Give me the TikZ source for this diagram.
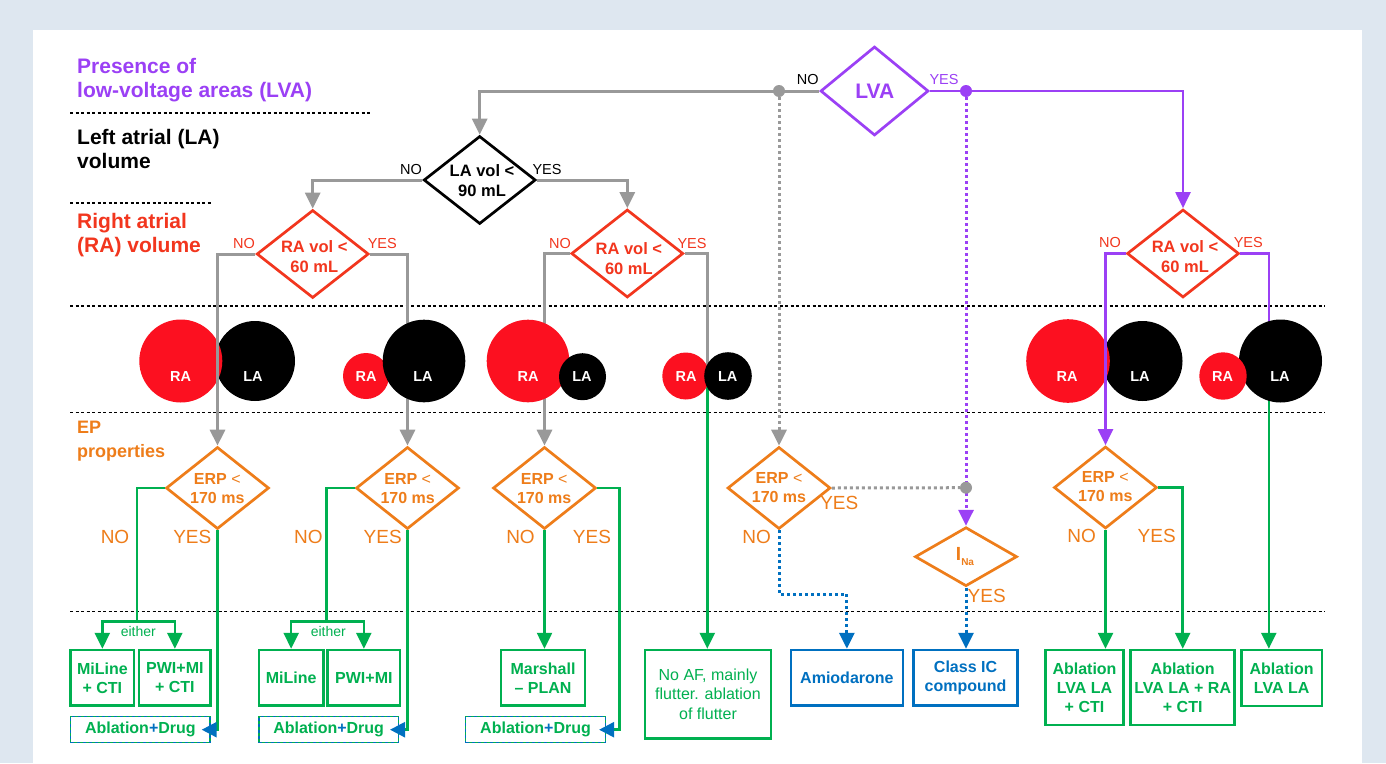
\documentclass[tikz,border=0pt]{standalone}
\usepackage{fontspec}
\setmainfont{Liberation Sans}
\usetikzlibrary{arrows.meta,shapes.geometric}
\definecolor{cpurple}{HTML}{9B40F5}
\definecolor{cred}{HTML}{F2361E}
\definecolor{corange}{HTML}{EE7D1A}
\definecolor{cgreen}{HTML}{00B050}
\definecolor{cblue}{HTML}{0070C0}
\definecolor{cgray}{HTML}{999999}
\definecolor{ccirc}{HTML}{FC1020}
\definecolor{cbg}{HTML}{DEE7F0}
\begin{document}
\begin{tikzpicture}[x=1pt,y=-1pt,
  every node/.style={inner sep=0pt},
  lab/.style={anchor=base west, align=left, font=\fontsize{21}{24}\selectfont\bfseries},
  secline/.style={black, line width=1.4pt, dash pattern=on 3pt off 2.5pt},
  dia/.style={diamond, draw, line width=2.7pt, inner sep=0pt},
  dtext/.style={align=center, font=\fontsize{16.5}{20}\selectfont\bfseries},
  etext/.style={align=center, text=corange, font=\fontsize{16}{19}\selectfont\bfseries},
  yn/.style={font=\fontsize{14.5}{16}\selectfont},
  eyn/.style={font=\fontsize{19}{20}\selectfont, text=corange},
  circ/.style={circle, inner sep=0pt, draw=none},
  ctxt/.style={text=white, font=\fontsize{14.5}{16}\selectfont\bfseries},
  gbox/.style={draw=cgreen, line width=2.5pt, align=center, text=cgreen, font=\fontsize{16}{19}\selectfont\bfseries},
  bbox/.style={draw=cblue, line width=2.5pt, align=center, text=cblue, font=\fontsize{16}{19}\selectfont\bfseries},
  adbox/.style={preaction={draw=cgreen, line width=1.4pt, solid}, draw=cblue, line width=1.4pt, dash pattern=on 3pt off 3pt, minimum height=26pt, text=cgreen, font=\fontsize{16}{19}\selectfont\bfseries},
  gline/.style={draw=cgray, line width=3pt},
  pline/.style={draw=cpurple, line width=2.2pt},
  grline/.style={draw=cgreen, line width=2.5pt},
  gdotl/.style={draw=cgray, line width=3pt, dash pattern=on 3pt off 3pt},
  pdotl/.style={draw=cpurple, line width=3pt, dash pattern=on 3pt off 3pt},
  bdotl/.style={draw=cblue, line width=3pt, dash pattern=on 3pt off 3pt},
  arr/.style={-{Triangle[length=16pt,width=15pt]}},
  barr/.style={-{Triangle[length=15pt,width=15pt,color=cblue]}},
  dotn/.style={circle, inner sep=0pt, minimum size=12pt, draw=none},
]
% background
\path[use as bounding box] (0,0) rectangle (1386,763);
\fill[cbg] (0,0) rectangle (1386,763);
\fill[white] (33,30) rectangle (1362,763);

% section separators
\draw[secline] (70,113) -- (372,113);
\draw[secline] (70,203) -- (211,203);
\draw[secline] (70,306) -- (1325,306);
\draw[secline] (70,412.5) -- (1325,412.5);
\draw[secline] (70,611.5) -- (1325,611.5);

% section labels (anchor at baseline of last line)
\node[lab, text=cpurple] (l1) at (77,97) {Presence of\\low-voltage areas (LVA)};
\node[lab, text=black] (l2) at (77,168) {Left atrial (LA)\\volume};
\node[lab, text=cred] (l3) at (77,252) {Right atrial\\(RA) volume};
\node[lab, text=corange, font=\fontsize{18}{24}\selectfont\bfseries] (l4) at (77,457) {EP\\properties};

% diamonds
\node[dia, draw=cpurple, minimum width=108pt, minimum height=89pt] (lva) at (874.5,91) {};
\node[dia, draw=black, minimum width=112pt, minimum height=88pt] (lav) at (479.7,180) {};
\node[dia, draw=cred, minimum width=112pt, minimum height=88pt] (ra1) at (312.7,254) {};
\node[dia, draw=cred, minimum width=112pt, minimum height=88pt] (ra2) at (627.3,253.5) {};
\node[dia, draw=cred, minimum width=112pt, minimum height=88pt] (ra3) at (1183,253.5) {};
\node[dia, draw=corange, minimum width=103pt, minimum height=82pt] (erp1) at (217.5,488) {};
\node[dia, draw=corange, minimum width=103pt, minimum height=82pt] (erp2) at (407.5,488) {};
\node[dia, draw=corange, minimum width=103pt, minimum height=82pt] (erp3) at (544.5,488) {};
\node[dia, draw=corange, minimum width=103pt, minimum height=82pt] (erp4) at (779,488) {};
\node[dia, draw=corange, minimum width=103pt, minimum height=82pt] (erp5) at (1105.5,487.5) {};
\node[dia, draw=corange, minimum width=102pt, minimum height=59pt] (ina) at (966,556.7) {};

% diamond texts
\node[text=cpurple, font=\fontsize{21}{24}\selectfont\bfseries] (tlva) at (874.7,91.7) {LVA};
\node[dtext, text=black] (tlav) at (482,180.5) {LA vol <\\90 mL};
\node[dtext, text=cred] (tra1) at (314.3,257) {RA vol <\\60 mL};
\node[dtext, text=cred] (tra2) at (628.9,258.3) {RA vol <\\60 mL};
\node[dtext, text=cred] (tra3) at (1185,256.2) {RA vol <\\60 mL};
\node[etext] (te1) at (217.3,488.5) {ERP {\mdseries<}\\170 ms};
\node[etext] (te2) at (407.7,488.5) {ERP {\mdseries<}\\170 ms};
\node[etext] (te3) at (544.2,488.5) {ERP {\mdseries<}\\170 ms};
\node[etext] (te4) at (779,488) {ERP {\mdseries<}\\170 ms};
\node[etext] (te5) at (1105.3,486.7) {ERP {\mdseries<}\\170 ms};
\node[text=corange, font=\fontsize{19}{20}\selectfont\bfseries] (tina) at (965,557) {I\raisebox{-5pt}{\fontsize{10}{10}\selectfont Na}};

% yes/no labels
\node[yn, text=black] at (807.7,79.3) {NO};
\node[yn, text=cpurple] at (944,79.3) {YES};
\node[yn, text=black] at (411,170) {NO};
\node[yn, text=black] at (547,170) {YES};
\node[yn, text=cred] at (244,244) {NO};
\node[yn, text=cred] at (382.3,244) {YES};
\node[yn, text=cred] at (560,244) {NO};
\node[yn, text=cred] at (692,244) {YES};
\node[yn, text=cred] at (1110,243) {NO};
\node[yn, text=cred] at (1248.3,243) {YES};
\node[eyn] at (115,536.7) {NO};
\node[eyn] at (192.3,536.7) {YES};
\node[eyn] at (308.3,536.7) {NO};
\node[eyn] at (382.7,536.7) {YES};
\node[eyn] at (520.5,536.7) {NO};
\node[eyn] at (592,536.7) {YES};
\node[eyn] at (756.7,536.7) {NO};
\node[eyn] at (839.3,503.3) {YES};
\node[eyn] at (986.7,596) {YES};
\node[eyn] at (1081.7,535.7) {NO};
\node[eyn] at (1156.7,535.7) {YES};

% boxes
\node[gbox, minimum width=63.3pt, minimum height=55.7pt] (b1) at (102.35,677.85) {MiLine\\+ CTI};
\node[gbox, minimum width=71.7pt, minimum height=55.7pt] (b2) at (174.85,677.85) {PWI+MI\\+ CTI};
\node[gbox, minimum width=64.3pt, minimum height=55.7pt] (b3) at (291.15,677.85) {MiLine};
\node[gbox, minimum width=72.3pt, minimum height=55.7pt] (b4) at (363.85,677.85) {PWI+MI};
\node[gbox, minimum width=84pt, minimum height=55.7pt] (mar) at (543,677.85) {Marshall\\– PLAN};
\node[gbox, minimum width=125.6pt, minimum height=88.3pt, font=\fontsize{16}{19.5}\selectfont] (noaf) at (708,694.15) {No AF, mainly\\flutter. ablation\\of flutter};
\node[bbox, minimum width=111.8pt, minimum height=55.7pt] (amio) at (846.9,677.85) {Amiodarone};
\node[bbox, minimum width=104.1pt, minimum height=55.7pt] (cic) at (965.55,677.85) {Class IC\\compound};
\node[gbox, minimum width=77.6pt, minimum height=75pt] (ba) at (1084.5,687.5) {Ablation\\LVA LA\\+ CTI};
\node[gbox, minimum width=104pt, minimum height=75pt] (bb) at (1182.7,687.5) {Ablation\\LVA LA + RA\\+ CTI};
\node[gbox, minimum width=80.7pt, minimum height=56pt] (bc) at (1281.65,678) {Ablation\\LVA LA};
\node[adbox, minimum width=139.3pt] (ad1) at (140.35,729.7) {Ablation{\color{cblue}+}Drug};
\node[adbox, minimum width=139.3pt] (ad2) at (328.65,729.7) {Ablation{\color{cblue}+}Drug};
\node[adbox, minimum width=139.7pt] (ad3) at (535.55,729.7) {Ablation{\color{cblue}+}Drug};

% connectors hidden behind the atria
\draw[gline,arr] (ra1.east) -| (erp2.north);
\draw[gline,arr] (ra2.west) -| (erp3.north);
\coordinate (j4) at (707.3,376);
\draw[gline] (ra2.east) -| (j4);
\draw[grline,arr] (j4) -- (j4 |- noaf.north);
\coordinate (j6) at (1268.8,376);
\draw[pline] (ra3.east) -| (j6);
\draw[grline,arr] (j6) -- (j6 |- bc.north);

% atria
\node[circ, fill=black, minimum size=80pt] (la1) at (255,361) {};
\node[circ, fill=ccirc, minimum size=83pt] (rac1) at (180.8,361) {};
\node[circ, fill=ccirc, minimum size=46pt] (rac2) at (366,376) {};
\node[circ, fill=black, minimum size=82.6pt] (la2) at (424,361) {};
\node[circ, fill=ccirc, minimum size=82.6pt] (rac3) at (528,361) {};
\node[circ, fill=black, minimum size=47pt] (la3) at (582.5,376.7) {};
\node[circ, fill=ccirc, minimum size=47pt] (rac4) at (685.8,376) {};
\node[circ, fill=black, minimum size=47.6pt] (la4) at (728,376) {};
\node[circ, fill=black, minimum size=80pt] (la5) at (1142.5,361) {};
\node[circ, fill=ccirc, minimum size=83.6pt] (rac5) at (1068,361) {};
\node[circ, fill=black, minimum size=83pt] (la6) at (1280.5,361) {};
\node[circ, fill=ccirc, minimum size=47.4pt] (rac6) at (1223,376) {};
\node[ctxt] at (180.7,377) {RA};
\node[ctxt] at (253,377) {LA};
\node[ctxt] at (366,377) {RA};
\node[ctxt] at (423,377) {LA};
\node[ctxt] at (528,377) {RA};
\node[ctxt] at (582,377) {LA};
\node[ctxt] at (686,377) {RA};
\node[ctxt] at (727.7,377) {LA};
\node[ctxt] at (1067,377) {RA};
\node[ctxt] at (1140,377) {LA};
\node[ctxt] at (1222.7,377) {RA};
\node[ctxt] at (1280,377) {LA};

% connectors on top
\draw[gline,arr] (ra1.west) -| (erp1.north);
\draw[pline,arr] (ra3.west) -| (erp5.north);
\draw[gline,arr] (lva.west) -| (lav.north);
\draw[gline,arr] (lav.west) -| (ra1.north);
\draw[gline,arr] (lav.east) -| (ra2.north);
\draw[pline,arr] (lva.east) -| (ra3.north);
\node[dotn, fill=cgray] (d1) at (779,91) {};
\node[dotn, fill=cpurple] (d2) at (966,91) {};
\draw[gdotl,arr] (d1) -- (erp4.north);
\draw[pdotl,arr] (d2) -- (ina.north);
\node[dotn, fill=cgray] (d3) at (966,487.7) {};
\draw[gdotl] (erp4.east) -- (d3);
\draw[bdotl,arr] (erp4.south) -- ++(0,64) -| (amio.north);
\draw[bdotl,arr] (ina.south) -- (ina.south |- cic.north);

% green branches
\coordinate (e1) at (137,621.7);
\draw[grline] (erp1.west) -| (e1);
\draw[grline,arr] (e1) -| (b1.north);
\draw[grline,arr] (e1) -| (b2.north);
\node[text=cgreen, font=\fontsize{14}{16}\selectfont] at (138.3,631) {either};
\draw[grline,barr] (erp1.south) |- ([xshift=-9pt]ad1.east);
\coordinate (e2) at (326.7,621.7);
\draw[grline] (erp2.west) -| (e2);
\draw[grline,arr] (e2) -| (b3.north);
\draw[grline,arr] (e2) -| (b4.north);
\node[text=cgreen, font=\fontsize{14}{16}\selectfont] at (328.3,631) {either};
\draw[grline,barr] (erp2.south) |- ([xshift=-9pt]ad2.east);
\draw[grline,arr] (erp3.south) -- (erp3.south |- mar.north);
\draw[grline,barr] (erp3.east) -- ++(22,0) |- ([xshift=-7pt]ad3.east);
\draw[grline,arr] (erp5.south) -- (erp5.south |- ba.north);
\draw[grline,arr] (erp5.east) -| (bb.north);
\end{tikzpicture}
\end{document}
